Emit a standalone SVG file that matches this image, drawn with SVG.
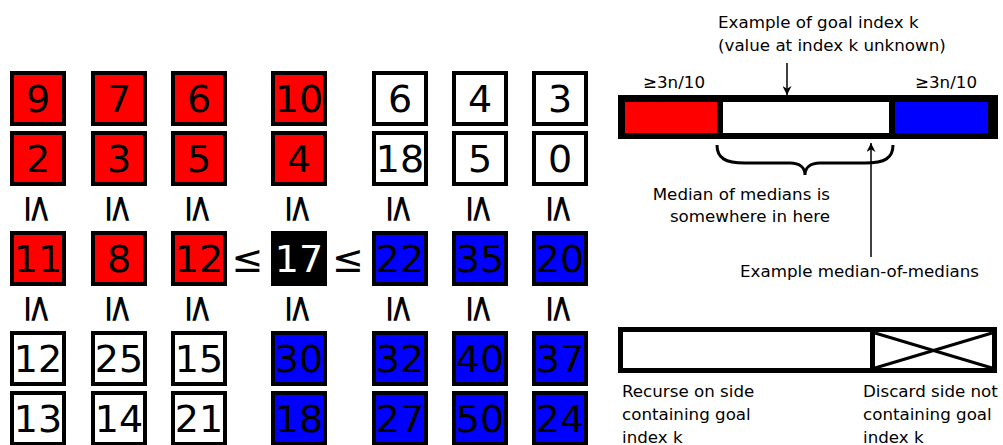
<svg xmlns="http://www.w3.org/2000/svg" width="1003" height="445" viewBox="0 0 1003 445">
  <style>
    .cell { stroke: #000; stroke-width: 4; }
    .r { fill: #ff0000; }
    .b { fill: #0000ff; }
    .w { fill: #ffffff; }
    .k { fill: #000000; stroke: none; }
    .num { font-family: "DejaVu Sans", sans-serif; font-size: 38px; text-anchor: middle; fill: #000; }
    .num.inv { fill: #fff; }
    .rel { font-family: "DejaVu Sans", sans-serif; font-size: 38px; text-anchor: middle; fill: #000; }
    .lbl { font-family: "DejaVu Sans", sans-serif; font-size: 16.7px; fill: #000; }
    .thin { stroke: #000; stroke-width: 1.5; fill: none; }
  </style>
  <defs>
    <marker id="headBig" viewBox="0 0 10 10" refX="10" refY="5" markerWidth="12" markerHeight="9" markerUnits="userSpaceOnUse" orient="auto">
      <path d="M0,0 L10,5 L0,10 L3,5 Z" fill="#000"/>
    </marker>
  </defs>

  <!-- grid of groups of five; each column is one group -->
  <g id="grid">
    <!-- column 1 -->
    <g id="c1">
      <rect class="cell r" x="12" y="73" width="52" height="51"/><text class="num" x="38" y="112">9</text>
      <rect class="cell r" x="12" y="133" width="52" height="51"/><text class="num" x="38" y="172">2</text>
      <rect class="cell r" x="12" y="233" width="52" height="51"/><text class="num" x="38" y="272">11</text>
      <rect class="cell w" x="12" y="333" width="52" height="51"/><text class="num" x="38" y="372">12</text>
      <rect class="cell w" x="12" y="393" width="52" height="51"/><text class="num" x="38" y="432">13</text>
    </g>
    <!-- column 2 -->
    <g id="c2">
      <rect class="cell r" x="93" y="73" width="52" height="51"/><text class="num" x="119" y="112">7</text>
      <rect class="cell r" x="93" y="133" width="52" height="51"/><text class="num" x="119" y="172">3</text>
      <rect class="cell r" x="93" y="233" width="52" height="51"/><text class="num" x="119" y="272">8</text>
      <rect class="cell w" x="93" y="333" width="52" height="51"/><text class="num" x="119" y="372">25</text>
      <rect class="cell w" x="93" y="393" width="52" height="51"/><text class="num" x="119" y="432">14</text>
    </g>
    <!-- column 3 -->
    <g id="c3">
      <rect class="cell r" x="173" y="73" width="52" height="51"/><text class="num" x="199" y="112">6</text>
      <rect class="cell r" x="173" y="133" width="52" height="51"/><text class="num" x="199" y="172">5</text>
      <rect class="cell r" x="173" y="233" width="52" height="51"/><text class="num" x="199" y="272">12</text>
      <rect class="cell w" x="173" y="333" width="52" height="51"/><text class="num" x="199" y="372">15</text>
      <rect class="cell w" x="173" y="393" width="52" height="51"/><text class="num" x="199" y="432">21</text>
    </g>
    <!-- column 4 (holds the median of medians) -->
    <g id="c4">
      <rect class="cell r" x="273" y="73" width="52" height="51"/><text class="num" x="299" y="112">10</text>
      <rect class="cell r" x="273" y="133" width="52" height="51"/><text class="num" x="299" y="172">4</text>
      <rect class="k" x="271" y="231" width="56" height="55"/><text class="num inv" x="299" y="272">17</text>
      <rect class="cell b" x="273" y="333" width="52" height="51"/><text class="num" x="299" y="372">30</text>
      <rect class="cell b" x="273" y="393" width="52" height="51"/><text class="num" x="299" y="432">18</text>
    </g>
    <!-- column 5 -->
    <g id="c5">
      <rect class="cell w" x="374" y="73" width="52" height="51"/><text class="num" x="400" y="112">6</text>
      <rect class="cell w" x="374" y="133" width="52" height="51"/><text class="num" x="400" y="172">18</text>
      <rect class="cell b" x="374" y="233" width="52" height="51"/><text class="num" x="400" y="272">22</text>
      <rect class="cell b" x="374" y="333" width="52" height="51"/><text class="num" x="400" y="372">32</text>
      <rect class="cell b" x="374" y="393" width="52" height="51"/><text class="num" x="400" y="432">27</text>
    </g>
    <!-- column 6 -->
    <g id="c6">
      <rect class="cell w" x="454" y="73" width="52" height="51"/><text class="num" x="480" y="112">4</text>
      <rect class="cell w" x="454" y="133" width="52" height="51"/><text class="num" x="480" y="172">5</text>
      <rect class="cell b" x="454" y="233" width="52" height="51"/><text class="num" x="480" y="272">35</text>
      <rect class="cell b" x="454" y="333" width="52" height="51"/><text class="num" x="480" y="372">40</text>
      <rect class="cell b" x="454" y="393" width="52" height="51"/><text class="num" x="480" y="432">50</text>
    </g>
    <!-- column 7 -->
    <g id="c7">
      <rect class="cell w" x="534" y="73" width="52" height="51"/><text class="num" x="560" y="112">3</text>
      <rect class="cell w" x="534" y="133" width="52" height="51"/><text class="num" x="560" y="172">0</text>
      <rect class="cell b" x="534" y="233" width="52" height="51"/><text class="num" x="560" y="272">20</text>
      <rect class="cell b" x="534" y="333" width="52" height="51"/><text class="num" x="560" y="372">37</text>
      <rect class="cell b" x="534" y="393" width="52" height="51"/><text class="num" x="560" y="432">24</text>
    </g>
  </g>

  <!-- order relations between cells -->
  <g id="relations">
    <text class="rel" x="247.5" y="272">≤</text>
    <text class="rel" x="348" y="272">≤</text>
    <g id="rel-upper">
      <text class="rel" transform="translate(38 209) rotate(90)" x="0" y="12.5">≤</text>
      <text class="rel" transform="translate(119 209) rotate(90)" x="0" y="12.5">≤</text>
      <text class="rel" transform="translate(199 209) rotate(90)" x="0" y="12.5">≤</text>
      <text class="rel" transform="translate(299 209) rotate(90)" x="0" y="12.5">≤</text>
      <text class="rel" transform="translate(400 209) rotate(90)" x="0" y="12.5">≤</text>
      <text class="rel" transform="translate(480 209) rotate(90)" x="0" y="12.5">≤</text>
      <text class="rel" transform="translate(560 209) rotate(90)" x="0" y="12.5">≤</text>
    </g>
    <g id="rel-lower">
      <text class="rel" transform="translate(38 309) rotate(90)" x="0" y="12.5">≤</text>
      <text class="rel" transform="translate(119 309) rotate(90)" x="0" y="12.5">≤</text>
      <text class="rel" transform="translate(199 309) rotate(90)" x="0" y="12.5">≤</text>
      <text class="rel" transform="translate(299 309) rotate(90)" x="0" y="12.5">≤</text>
      <text class="rel" transform="translate(400 309) rotate(90)" x="0" y="12.5">≤</text>
      <text class="rel" transform="translate(480 309) rotate(90)" x="0" y="12.5">≤</text>
      <text class="rel" transform="translate(560 309) rotate(90)" x="0" y="12.5">≤</text>
    </g>
  </g>

  <!-- sorted-order bar -->
  <g id="order-bar">
    <rect x="618" y="95" width="380" height="44" fill="#000"/>
    <rect x="625" y="102" width="92" height="31" fill="#ff0000"/>
    <rect x="723" y="102" width="166" height="31" fill="#ffffff"/>
    <rect x="895" y="102" width="93" height="31" fill="#0000ff"/>
    <text class="lbl" x="643" y="88">≥3n/10</text>
    <text class="lbl" x="915" y="88">≥3n/10</text>
  </g>

  <g id="goal-label">
    <text class="lbl" x="718" y="28">Example of goal index k</text>
    <text class="lbl" x="718" y="51">(value at index k unknown)</text>
  </g>

  <g id="median-range">
    <path d="M717,145 C717,158 725,163 745,163 L790,163 C800,163 805,168 805,175 C805,168 810,163 820,163 L865,163 C885,163 893,158 893,145" fill="none" stroke="#000" stroke-width="3"/>
    <text class="lbl" x="830" y="200" text-anchor="end">Median of medians is</text>
    <text class="lbl" x="830" y="222" text-anchor="end">somewhere in here</text>
  </g>

  <g id="median-label">
    <text class="lbl" x="740" y="277">Example median-of-medians</text>
  </g>

  <!-- split bar -->
  <g id="split-bar">
    <rect x="620.5" y="329.5" width="374" height="41" fill="#fff" stroke="#000" stroke-width="5"/>
    <line x1="872.5" y1="327" x2="872.5" y2="373" stroke="#000" stroke-width="5"/>
    <line x1="875" y1="333" x2="992" y2="368" stroke="#000" stroke-width="3"/>
    <line x1="875" y1="368" x2="992" y2="333" stroke="#000" stroke-width="3"/>
    <text class="lbl" x="622" y="397">Recurse on side</text>
    <text class="lbl" x="622" y="420">containing goal</text>
    <text class="lbl" x="622" y="443">index k</text>
    <text class="lbl" x="863" y="397">Discard side not</text>
    <text class="lbl" x="863" y="420">containing goal</text>
    <text class="lbl" x="863" y="443">index k</text>
  </g>

  <!-- pointers -->
  <g id="connectors">
    <line class="thin" x1="787" y1="63" x2="787" y2="95" marker-end="url(#headBig)"/>
    <line class="thin" x1="871" y1="257" x2="871" y2="143" marker-end="url(#headBig)"/>
  </g>
</svg>
